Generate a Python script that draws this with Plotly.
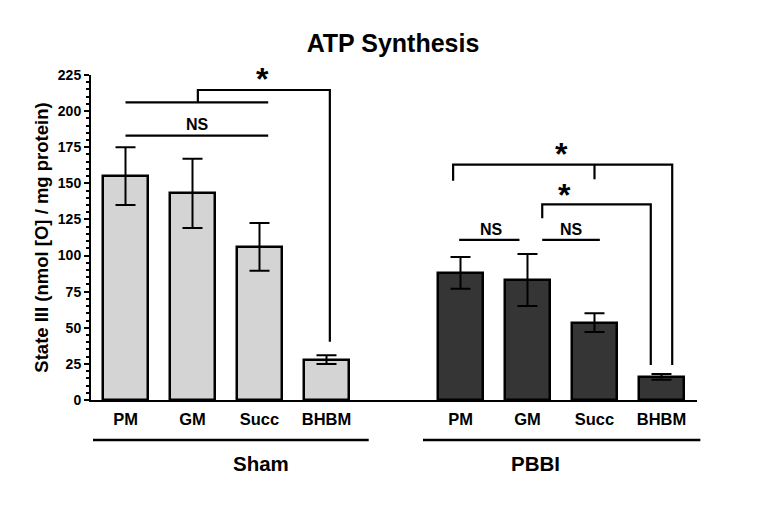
"""
ATP synthesis (State III) bar chart, Sham vs PBBI, with significance brackets.
"""

import plotly.graph_objects as go

# ── DATA ──────────────────────────────────────────────────────────────────────

SUBSTRATES = ["PM", "GM", "Succ", "BHBM"]

SHAM_X   = [0, 1, 2, 3]
SHAM_Y   = [155, 143, 106, 28]
SHAM_ERR = [20, 24, 16.5, 3]

PBBI_X   = [5, 6, 7, 8]
PBBI_Y   = [88, 83, 53.5, 16]
PBBI_ERR = [11, 18, 6.5, 2]

GROUPS = ["Sham", "PBBI"]

Y_TICKS = [0, 25, 50, 75, 100, 125, 150, 175, 200, 225]

# significance brackets (data coords)
BRACKETS = [
    ([0, 2.13], [183, 183]),
    ([0, 2.13], [206, 206]),
    ([1.08, 1.08, 3.05, 3.05], [206, 214.6, 214.6, 40.4]),
    ([4.89, 4.89, 8.16, 8.16], [151.8, 163, 163, 24.2]),
    ([7.0, 7.0], [163, 152.8]),
    ([6.22, 6.22, 7.84, 7.84], [125.8, 135.5, 135.5, 24.2]),
    ([4.98, 5.88], [110.8, 110.8]),
    ([6.22, 7.08], [110.8, 110.8]),
]

SIG_LABELS = [
    ("NS", 1.07, 191),
    ("*", 2.05, 222),
    ("NS", 5.47, 118),
    ("NS", 6.66, 118),
    ("*", 6.51, 170),
    ("*", 6.55, 142),
]

X_RANGE = [-0.515, 8.53]
Y_RANGE = [0, 225]

# ── FIGURE ────────────────────────────────────────────────────────────────────

FONT = "Liberation Sans, Arial, sans-serif"

fig = go.Figure()

for xs, ys, errs, fill in [(SHAM_X, SHAM_Y, SHAM_ERR, "#d4d4d4"),
                           (PBBI_X, PBBI_Y, PBBI_ERR, "#353535")]:
    fig.add_trace(go.Bar(
        x=xs, y=ys,
        width=0.67,
        marker=dict(color=fill, line=dict(color="black", width=2.5)),
        error_y=dict(type="data", array=errs, color="black", thickness=2, width=10),
        showlegend=False,
    ))

for bx, by in BRACKETS:
    fig.add_trace(go.Scatter(
        x=bx, y=by, mode="lines",
        line=dict(color="black", width=2.2),
        cliponaxis=False, showlegend=False, hoverinfo="skip",
    ))

for txt, tx, ty in SIG_LABELS:
    big = txt == "*"
    fig.add_annotation(
        x=tx, y=ty, xref="x", yref="y", text=txt, showarrow=False,
        font=dict(family=FONT, size=32 if big else 16, color="black", weight="bold"),
        yanchor="middle",
    )

# group lines + labels under the axis
span = X_RANGE[1] - X_RANGE[0]
to_paper = lambda v: (v - X_RANGE[0]) / span
for name, (x0, x1) in zip(GROUPS, [(-0.485, 3.63), (4.44, 8.58)]):
    fig.add_shape(
        type="line", xref="paper", yref="paper",
        x0=to_paper(x0), x1=to_paper(x1), y0=-0.123, y1=-0.123,
        line=dict(color="black", width=2.5),
    )
    fig.add_annotation(
        x=to_paper((x0 + x1) / 2), y=-0.194, xref="paper", yref="paper",
        text=name, showarrow=False, yanchor="middle",
        font=dict(family=FONT, size=20.5, color="black", weight="bold"),
    )

fig.update_layout(
    title=dict(
        text="ATP Synthesis", x=0.5086, y=0.9296, xanchor="center", yanchor="middle",
        font=dict(family=FONT, size=25, color="black", weight="bold"),
    ),
    width=757, height=497,
    margin=dict(l=83, r=68, t=67, b=105, autoexpand=False),
    plot_bgcolor="white", paper_bgcolor="white",
    bargap=0,
    xaxis=dict(
        range=X_RANGE,
        tickvals=SHAM_X + PBBI_X,
        ticktext=SUBSTRATES + SUBSTRATES,
        ticks="", ticklabelstandoff=3,
        showline=True, linecolor="black", linewidth=2,
        showgrid=False, zeroline=False,
        tickfont=dict(family=FONT, size=16.5, color="black", weight="bold"),
    ),
    yaxis=dict(
        range=Y_RANGE,
        tickvals=Y_TICKS,
        ticks="outside", ticklen=5, tickwidth=2, tickcolor="black",
        minor=dict(dtick=5, ticks="outside", ticklen=3, tickwidth=1.5, tickcolor="black"),
        showline=True, linecolor="black", linewidth=2,
        showgrid=False, zeroline=False,
        tickfont=dict(family=FONT, size=14, color="black", weight="bold"),
        title=dict(
            text="State III (nmol [O] / mg protein)", standoff=4,
            font=dict(family=FONT, size=18.5, color="black", weight="bold"),
        ),
    ),
)

fig.write_html("out.html")
